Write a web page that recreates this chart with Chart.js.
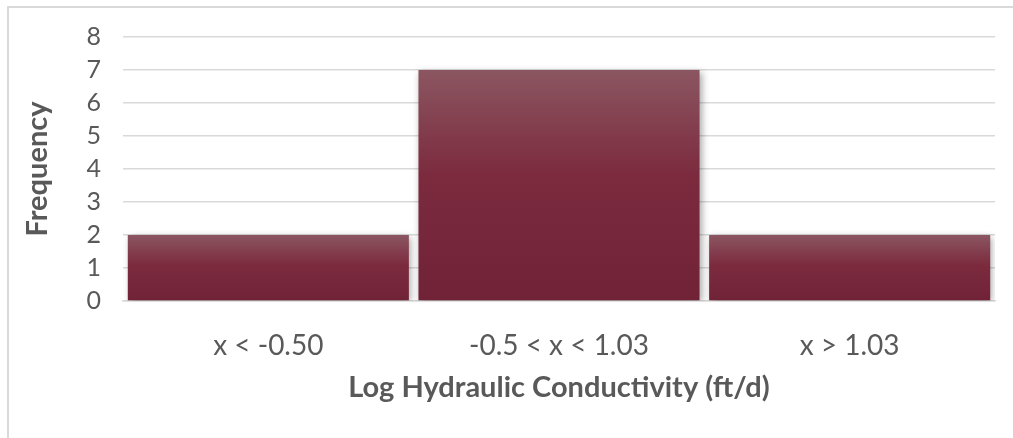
<!DOCTYPE html>
<html>
<head>
<meta charset="utf-8">
<script src="https://cdn.jsdelivr.net/npm/chart.js@4.4.1/dist/chart.umd.min.js"></script>
<style>
  html, body { margin: 0; padding: 0; background: #fff; }
  #wrap { position: relative; width: 1013px; height: 438px; overflow: hidden; }
  #frame { position: absolute; left: 7px; top: 6px; width: 1020px; height: 450px; border: 2px solid #d9d9d9; box-sizing: border-box; }
  canvas { position: absolute; left: 0; top: 0; }
</style>
</head>
<body>
<div id="wrap">
  <div id="frame"></div>
  <canvas id="chart" width="1013" height="438"></canvas>
</div>
<script>
// histogram bins and counts
const binLabels = ["x < -0.50", "-0.5 < x < 1.03", "x > 1.03"];
const frequency = [2, 7, 2];
const yTicks = [0, 1, 2, 3, 4, 5, 6, 7, 8];

const FONT = "Lato, 'Open Sans', sans-serif";
const TEXT = "#595959";

function barGradient(context) {
  const chart = context.chart;
  const y = chart.scales.y;
  if (!y || !context.parsed) return "#772538";
  const top = y.getPixelForValue(context.parsed.y);
  const base = y.getPixelForValue(0);
  if (!isFinite(top) || !isFinite(base) || top === base) return "#772538";
  const g = chart.ctx.createLinearGradient(0, top, 0, base);
  g.addColorStop(0, "#8b5661");
  g.addColorStop(0.45, "#7c2b3f");
  g.addColorStop(1, "#702236");
  return g;
}

// soft grey shadow behind the bars like the office chart
const barShadow = {
  id: "barShadow",
  beforeDatasetsDraw(chart) {
    const ctx = chart.ctx;
    ctx.save();
    ctx.shadowColor = "rgba(0,0,0,0.35)";
    ctx.shadowBlur = 7;
    ctx.shadowOffsetX = 2;
    ctx.shadowOffsetY = 2;
  },
  afterDatasetsDraw(chart) {
    chart.ctx.restore();
  }
};

new Chart(document.getElementById("chart"), {
  type: "bar",
  data: {
    labels: binLabels,
    datasets: [{
      label: "Frequency",
      data: frequency,
      backgroundColor: barGradient,
      borderWidth: 0,
      barPercentage: 0.967,
      categoryPercentage: 1.0
    }]
  },
  options: {
    responsive: false,
    animation: false,
    layout: { padding: { top: 36, right: 18, left: 0, bottom: 0 } },
    plugins: {
      legend: { display: false },
      tooltip: { enabled: false }
    },
    scales: {
      x: {
        afterFit: s => { s.height = 137; },
        grid: { display: false },
        border: { display: true, color: "#d9d9d9", width: 1.5 },
        ticks: { color: TEXT, font: { family: FONT, size: 28 }, padding: 20 },
        title: {
          display: true,
          text: "Log Hydraulic Conductivity (ft/d)",
          color: TEXT,
          font: { family: FONT, size: 29, weight: "bold" },
          padding: { top: 0, bottom: 33 }
        }
      },
      y: {
        min: 0,
        max: 8,
        afterFit: s => { s.width = 123; },
        afterBuildTicks: s => { s.ticks = yTicks.map(v => ({ value: v })); },
        grid: { color: "#d9d9d9", lineWidth: 1.5, drawTicks: false },
        border: { display: false },
        ticks: { color: TEXT, font: { family: FONT, size: 25 }, padding: 22 },
        title: {
          display: true,
          text: "Frequency",
          color: TEXT,
          font: { family: FONT, size: 29, weight: "bold" },
          padding: { top: 20, bottom: 0 }
        }
      }
    }
  },
  plugins: [barShadow]
});
</script>
</body>
</html>
